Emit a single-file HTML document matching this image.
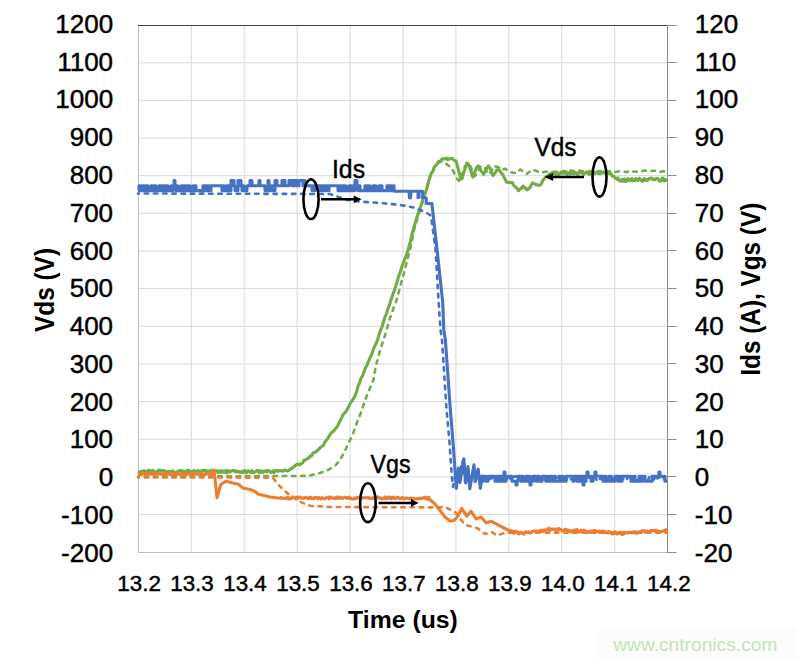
<!DOCTYPE html><html><head><meta charset="utf-8"><style>html,body{margin:0;padding:0;background:#fff;}svg{display:block;}text{font-family:"Liberation Sans",sans-serif;}</style></head><body>
<svg width="797" height="660" viewBox="0 0 797 660">
<rect width="797" height="660" fill="#fff"/>
<rect x="597" y="630" width="200" height="30" fill="#fcfcfc"/>
<path d="M138,62.75H667M138,100.40H667M138,138.05H667M138,175.70H667M138,213.35H667M138,251.00H667M138,288.65H667M138,326.30H667M138,363.95H667M138,401.60H667M138,439.25H667M138,476.90H667M138,514.55H667M191.32,25V552M244.24,25V552M297.16,25V552M350.08,25V552M403.00,25V552M455.92,25V552M508.84,25V552M561.76,25V552M614.68,25V552" stroke="#d9d9d9" stroke-width="1" fill="none"/>
<path d="M138.5,25V553M138,552.5H667" stroke="#bfbfbf" stroke-width="1" fill="none"/>
<path d="M138,25.5H667" stroke="#404040" stroke-width="1.2" fill="none"/>
<path d="M667.5,25V553M667,25.5H676.5M667,62.5H676.5M667,100.5H676.5M667,137.5H676.5M667,175.5H676.5M667,213.5H676.5M667,250.5H676.5M667,288.5H676.5M667,326.5H676.5M667,363.5H676.5M667,401.5H676.5M667,439.5H676.5M667,476.5H676.5M667,514.5H676.5M667,552.5H676.5" stroke="#8c8c8c" stroke-width="1" fill="none"/>
<path d="M138.0,471.4 L139.0,471.7 L140.0,472.6 L141.0,471.4 L142.0,471.5 L143.0,471.7 L144.0,470.7 L145.0,471.5 L146.0,471.8 L147.0,472.3 L148.0,470.4 L149.0,471.0 L150.0,470.4 L151.0,472.3 L152.0,472.0 L153.0,470.3 L154.0,472.8 L155.0,472.7 L156.0,471.9 L157.0,471.8 L158.0,470.6 L159.0,470.2 L160.0,471.6 L161.0,470.4 L162.0,470.7 L163.0,470.8 L164.0,470.3 L165.0,471.4 L166.0,471.3 L167.0,472.4 L168.0,471.5 L169.0,471.9 L170.0,471.5 L171.0,471.9 L172.0,471.4 L173.0,470.9 L174.0,472.8 L175.0,472.8 L176.0,472.4 L177.0,472.0 L178.0,471.0 L179.0,470.8 L180.0,471.0 L181.0,470.4 L182.0,472.2 L183.0,471.2 L184.0,472.4 L185.0,471.2 L186.0,472.7 L187.0,472.4 L188.0,470.2 L189.0,470.7 L190.0,472.6 L191.0,471.4 L192.0,472.7 L193.0,471.2 L194.0,470.4 L195.0,471.8 L196.0,472.2 L197.0,470.9 L198.0,470.4 L199.0,471.1 L200.0,472.7 L201.0,472.2 L202.0,470.5 L203.0,470.8 L204.0,470.5 L205.0,470.4 L206.0,472.3 L207.0,470.7 L208.0,471.7 L209.0,471.4 L210.0,470.7 L211.0,472.1 L212.0,470.5 L213.0,471.9 L214.0,470.5 L215.0,471.3 L216.0,470.8 L217.0,470.9 L218.0,472.7 L219.0,472.3 L220.0,471.0 L221.0,472.5 L222.0,470.7 L223.0,471.2 L224.0,472.4 L225.0,471.9 L226.0,470.5 L227.0,472.8 L228.0,470.8 L229.0,470.9 L230.0,472.2 L231.0,471.1 L232.0,471.0 L233.0,470.4 L234.0,470.4 L235.0,471.7 L236.0,470.8 L237.0,471.8 L238.0,471.2 L239.0,471.4 L240.0,472.7 L241.0,471.5 L242.0,471.7 L243.0,472.5 L244.0,470.7 L245.0,470.6 L246.0,472.6 L247.0,472.3 L248.0,470.8 L249.0,470.7 L250.0,472.1 L251.0,472.6 L252.0,470.7 L253.0,472.7 L254.0,472.5 L255.0,471.8 L256.0,471.3 L257.0,470.5 L258.0,470.3 L259.0,472.7 L260.0,470.8 L261.0,472.0 L262.0,470.9 L263.0,472.3 L264.0,471.8 L265.0,471.0 L266.0,470.7 L267.0,472.1 L268.0,470.4 L269.0,470.8 L270.0,471.7 L271.0,472.4 L272.0,471.8 L273.0,470.9 L274.0,472.6 L275.0,470.7 L276.0,470.2 L277.0,470.9 L278.0,471.4 L279.0,470.4 L280.0,470.7 L281.5,470.9 L283.0,471.1 L284.5,470.1 L286.0,470.3 L287.5,471.0 L289.0,470.4 L290.5,469.0 L292.0,468.3 L293.5,467.3 L295.0,465.6 L296.5,464.7 L298.0,464.0 L299.5,465.1 L301.0,463.7 L302.5,463.1 L304.0,460.1 L305.5,460.2 L307.0,458.8 L308.5,458.2 L310.0,456.2 L311.5,456.2 L313.0,453.0 L314.5,452.6 L316.0,451.6 L317.5,450.6 L319.0,448.9 L320.5,447.5 L322.0,446.3 L323.5,445.2 L325.0,441.9 L326.5,440.1 L328.0,438.1 L329.5,435.6 L331.0,432.9 L332.5,432.1 L334.0,430.7 L335.5,428.5 L337.0,427.1 L338.5,423.9 L340.0,421.1 L341.5,418.1 L343.0,414.6 L344.5,413.2 L346.0,411.5 L347.5,408.8 L349.0,406.0 L350.5,402.8 L352.0,401.1 L353.5,398.4 L355.0,395.7 L356.5,392.1 L358.0,386.1 L359.5,383.3 L361.0,378.3 L362.5,375.8 L364.0,371.9 L365.5,367.8 L367.0,365.2 L368.5,361.2 L370.0,357.8 L371.5,355.0 L373.0,350.3 L374.5,346.5 L376.0,343.5 L377.5,340.0 L379.0,334.7 L380.5,330.3 L382.0,327.0 L383.5,321.8 L385.0,316.8 L386.5,313.6 L388.0,308.3 L389.5,304.9 L391.0,299.7 L392.5,295.4 L394.0,291.4 L395.5,286.9 L397.0,282.1 L398.5,276.8 L400.0,272.9 L401.5,268.0 L403.0,263.3 L404.5,259.8 L406.0,256.1 L407.5,251.8 L409.0,246.3 L410.5,241.2 L412.0,234.3 L413.5,228.5 L415.0,223.8 L416.5,218.8 L418.0,214.0 L419.5,209.8 L421.0,205.5 L422.5,200.6 L424.0,195.7 L425.5,192.3 L427.0,188.1 L428.5,182.1 L430.0,176.1 L431.5,172.8 L433.0,171.2 L434.5,166.7 L436.0,165.6 L437.5,163.2 L439.0,161.2 L440.5,160.9 L442.0,158.9 L443.5,158.7 L445.0,158.9 L446.5,158.1 L448.0,159.8 L449.5,158.7 L451.0,158.5 L452.5,158.6 L454.0,160.2 L456.0,161.0 L457.2,165.4 L458.4,169.7 L459.6,174.4 L460.8,179.0 L462.0,178.9 L463.2,174.2 L464.4,170.8 L465.6,166.9 L466.8,163.2 L468.0,163.5 L469.2,166.5 L470.4,169.0 L471.6,173.4 L472.8,177.1 L474.0,174.1 L475.2,170.6 L476.4,168.3 L477.6,166.0 L478.8,166.0 L480.0,168.6 L481.2,171.0 L482.4,172.4 L483.6,174.5 L484.8,172.3 L486.0,169.5 L487.2,167.8 L488.4,165.9 L489.6,167.4 L490.8,170.1 L492.0,173.8 L493.2,175.5 L494.4,173.7 L495.6,172.2 L496.8,169.8 L498.0,169.9 L499.2,170.0 L500.4,171.6 L501.6,173.3 L502.8,174.5 L504.0,177.2 L505.2,179.2 L506.4,182.0 L507.6,182.4 L508.8,182.6 L510.0,182.2 L511.2,182.7 L512.4,182.6 L513.6,185.1 L514.8,186.6 L516.0,187.4 L517.2,188.6 L518.4,190.7 L519.6,189.7 L520.8,188.8 L522.0,187.2 L523.2,186.0 L524.4,188.0 L525.6,187.9 L526.8,189.9 L528.0,189.5 L529.2,188.0 L530.4,187.0 L531.6,184.5 L532.8,182.8 L534.0,183.6 L535.2,184.2 L536.4,184.7 L537.6,184.8 L538.8,185.5 L540.0,185.2 L541.2,184.1 L542.4,181.1 L543.6,179.5 L544.8,178.1 L546.0,176.6 L547.2,176.2 L548.4,175.1 L549.6,173.9 L551.0,174.1 L552.0,173.2 L553.0,172.4 L554.0,172.6 L555.0,174.1 L556.0,174.3 L557.0,172.1 L558.0,174.1 L559.0,174.5 L560.0,173.1 L561.0,173.2 L562.0,172.0 L563.0,173.1 L564.0,173.0 L565.0,173.3 L566.0,171.5 L567.0,174.5 L568.0,173.1 L569.0,172.7 L570.0,174.0 L571.0,173.2 L572.0,173.0 L573.0,173.6 L574.0,171.6 L575.0,173.1 L576.0,172.7 L577.0,174.5 L578.0,174.4 L579.0,172.3 L580.0,172.9 L581.0,171.8 L582.0,172.8 L583.0,174.0 L584.0,174.3 L585.0,172.9 L586.0,172.4 L587.0,172.0 L588.0,173.4 L589.0,174.4 L590.0,171.8 L591.0,173.9 L592.0,171.5 L593.0,172.0 L594.0,172.1 L595.0,173.6 L596.0,172.4 L597.0,172.5 L598.0,173.4 L599.0,171.7 L600.0,173.7 L601.0,171.8 L602.0,173.0 L603.0,172.2 L604.0,172.0 L605.0,173.1 L606.0,172.8 L607.0,172.6 L608.0,172.7 L609.0,173.7 L610.0,173.1 L611.0,173.8 L612.0,175.7 L613.0,176.3 L614.0,176.5 L615.0,178.1 L616.0,178.0 L617.0,179.3 L618.0,177.9 L619.0,180.2 L620.0,181.0 L621.0,181.3 L622.0,179.4 L623.0,179.4 L624.0,181.3 L625.0,179.0 L626.0,181.5 L627.0,181.2 L628.0,178.7 L629.0,179.1 L630.0,180.6 L631.0,179.1 L632.0,178.6 L633.0,180.9 L634.0,179.6 L635.0,180.8 L636.0,178.6 L637.0,179.5 L638.0,180.4 L639.0,178.3 L640.0,178.8 L641.0,180.4 L642.0,181.1 L643.0,181.3 L644.0,178.5 L645.0,179.8 L646.0,180.5 L647.0,179.7 L648.0,180.3 L649.0,178.7 L650.0,178.3 L651.0,178.4 L652.0,178.2 L653.0,179.8 L654.0,179.7 L655.0,179.8 L656.0,178.5 L657.0,178.6 L658.0,178.6 L659.0,180.7 L660.0,181.1 L661.0,180.9 L662.0,178.3 L663.0,178.1 L664.0,181.0 L665.0,179.4 L666.0,180.4 L667.0,178.9" stroke="#70AD47" stroke-width="3.1" fill="none" stroke-linejoin="round"/>
<path d="M138.0,476.5 L300.0,476.0 L310.0,475.5 L320.0,473.0 L328.0,470.0 L335.0,466.0 L340.0,460.0 L345.0,451.0 L347.6,445.0 L352.5,435.2 L357.0,422.4 L361.4,411.5 L365.3,399.7 L369.3,389.9 L373.7,379.0 L375.6,366.9 L380.1,350.2 L385.2,334.7 L386.0,331.9 L388.0,325.0 L390.0,318.0 L392.0,312.6 L394.0,306.6 L396.0,302.1 L398.0,295.2 L400.0,287.1 L402.0,279.9 L404.0,272.8 L406.0,264.9 L408.0,257.1 L410.0,249.6 L412.0,240.4 L414.0,230.2 L416.0,223.2 L418.0,216.6 L420.0,210.0 L422.0,203.7 L424.0,196.8 L426.0,189.9 L428.0,183.5 L430.0,177.3 L432.0,172.3 L434.0,167.5 L436.0,163.2 L438.0,163.0 L440.0,161.8 L443.0,161.5 L445.7,163.4 L450.0,166.8 L452.6,169.6 L454.5,173.7 L456.5,178.0 L459.0,181.0 L462.0,175.0 L465.0,166.0 L469.0,163.0 L472.0,170.0 L475.0,176.0 L478.0,172.0 L481.0,166.0 L485.0,168.0 L488.0,174.0 L491.0,172.0 L494.0,166.0 L498.0,167.0 L502.0,170.0 L505.0,168.6 L510.0,172.3 L516.5,173.2 L520.3,169.5 L526.6,173.9 L532.8,169.5 L540.0,172.4 L543.0,172.4 L546.0,171.6 L549.0,172.3 L552.0,172.2 L555.0,171.8 L558.0,171.8 L561.0,171.7 L564.0,171.1 L567.0,171.7 L570.0,170.6 L573.0,171.0 L576.0,171.3 L579.0,170.5 L582.0,171.1 L585.0,171.5 L588.0,171.5 L591.0,170.9 L594.0,172.0 L597.0,171.6 L600.0,171.0 L603.0,171.6 L606.0,171.4 L609.0,171.4 L612.0,171.1 L615.0,172.1 L618.0,171.5 L621.0,171.6 L624.0,171.7 L627.0,172.1 L630.0,170.5 L633.0,171.5 L636.0,171.7 L639.0,170.9 L642.0,171.1 L645.0,170.6 L648.0,170.8 L651.0,171.1 L654.0,170.7 L657.0,170.9 L660.0,171.9 L663.0,171.4 L666.0,171.3" stroke="#70AD47" stroke-width="2.6" fill="none" stroke-linejoin="round" stroke-dasharray="3.5 5.7" stroke-linecap="round" stroke-dashoffset="2.5"/>
<path d="M138.0,474.6 L139.0,474.1 L140.0,474.6 L141.0,474.2 L142.0,474.4 L143.0,473.5 L144.0,474.1 L145.0,474.3 L146.0,473.5 L147.0,474.5 L148.0,473.6 L149.0,474.0 L150.0,473.6 L151.0,474.0 L152.0,474.1 L153.0,473.5 L154.0,474.5 L155.0,473.9 L156.0,474.0 L157.0,474.1 L158.0,473.8 L159.0,473.7 L160.0,474.2 L161.0,474.1 L162.0,473.7 L163.0,474.3 L164.0,473.8 L165.0,473.4 L166.0,473.7 L167.0,473.5 L168.0,473.6 L169.0,474.3 L170.0,473.9 L171.0,474.5 L172.0,474.3 L173.0,473.5 L174.0,474.6 L175.0,474.5 L176.0,473.5 L177.0,474.5 L178.0,473.9 L179.0,474.0 L180.0,474.6 L181.0,473.7 L182.0,474.0 L183.0,474.5 L184.0,474.3 L185.0,474.0 L186.0,474.6 L187.0,474.4 L188.0,474.1 L189.0,473.5 L190.0,474.1 L191.0,473.9 L192.0,473.6 L193.0,473.5 L194.0,474.0 L195.0,473.5 L196.0,473.9 L197.0,474.2 L198.0,473.9 L199.0,473.7 L200.0,474.1 L201.0,473.9 L202.0,474.3 L203.0,474.0 L204.0,474.6 L205.0,474.5 L206.0,474.3 L207.0,473.7 L208.0,473.5 L209.0,474.5 L210.0,474.3 L211.0,474.1 L212.0,473.8 L213.0,472.5 L214.0,470.0 L217.0,497.7 L220.8,484.5 L225.8,481.3 L235.0,483.5 L238.0,484.0 L243.0,488.0 L250.0,489.5 L255.0,491.5 L258.0,494.0 L265.0,495.7 L270.0,497.0 L280.0,498.2 L281.0,497.5 L282.0,498.4 L283.0,498.1 L284.0,498.2 L285.0,498.3 L286.0,498.6 L287.0,497.3 L288.0,497.4 L289.0,499.1 L290.0,498.9 L291.0,498.8 L292.0,497.0 L293.0,497.0 L294.0,497.5 L295.0,497.8 L296.0,498.3 L297.0,497.1 L298.0,498.1 L299.0,497.1 L300.0,497.1 L301.0,498.4 L302.0,498.1 L303.0,498.3 L304.0,497.7 L305.0,498.0 L306.0,497.4 L307.0,497.7 L308.0,498.5 L309.0,498.7 L310.0,497.1 L311.0,497.2 L312.0,498.7 L313.0,498.3 L314.0,498.6 L315.0,497.4 L316.0,497.8 L317.0,497.5 L318.0,498.7 L319.0,497.7 L320.0,498.3 L321.0,499.1 L322.0,497.6 L323.0,498.1 L324.0,498.5 L325.0,498.9 L326.0,497.8 L327.0,497.7 L328.0,497.1 L329.0,498.8 L330.0,497.1 L331.0,497.1 L332.0,498.1 L333.0,498.0 L334.0,498.4 L335.0,497.6 L336.0,498.6 L337.0,497.1 L338.0,497.4 L339.0,498.4 L340.0,497.1 L341.0,497.6 L342.0,498.5 L343.0,498.4 L344.0,497.5 L345.0,497.2 L346.0,497.7 L347.0,498.5 L348.0,497.7 L349.0,497.2 L350.0,498.5 L351.0,498.2 L352.0,498.9 L353.0,499.0 L354.0,498.9 L355.0,497.9 L356.0,498.7 L357.0,497.6 L358.0,497.6 L359.0,497.8 L360.0,499.0 L361.0,498.9 L362.0,497.4 L363.0,497.7 L364.0,497.7 L365.0,497.7 L366.0,497.8 L367.0,497.8 L368.0,497.3 L369.0,498.1 L370.0,498.7 L371.0,498.1 L372.0,498.7 L373.0,498.1 L374.0,497.3 L375.0,498.6 L376.0,498.8 L377.0,497.5 L378.0,496.9 L379.0,498.0 L380.0,498.1 L381.0,498.1 L382.0,499.0 L383.0,498.3 L384.0,498.7 L385.0,497.0 L386.0,498.1 L387.0,498.6 L388.0,497.1 L389.0,497.1 L390.0,498.5 L391.0,498.9 L392.0,497.1 L393.0,498.3 L394.0,497.2 L395.0,498.5 L396.0,498.3 L397.0,497.4 L398.0,497.4 L399.0,498.6 L400.0,498.0 L401.0,498.6 L402.0,497.8 L403.0,497.6 L404.0,499.0 L405.0,498.4 L406.0,498.0 L407.0,498.1 L408.0,498.5 L409.0,498.5 L410.0,498.9 L411.0,497.8 L412.0,498.7 L413.0,498.4 L414.0,498.8 L415.0,498.7 L416.0,498.7 L417.0,498.9 L418.0,499.0 L419.0,498.3 L420.0,498.1 L421.0,498.5 L422.0,498.7 L423.0,497.8 L424.0,497.8 L425.0,497.2 L426.0,498.5 L427.0,499.1 L428.0,497.7 L429.0,497.3 L425.0,498.3 L430.0,499.8 L435.0,504.0 L440.0,510.5 L445.0,517.0 L450.0,521.0 L454.0,520.5 L458.0,516.0 L461.7,508.3 L466.7,516.2 L471.0,511.2 L476.0,519.0 L481.0,517.0 L486.0,522.7 L491.0,521.2 L500.0,526.0 L510.6,531.3 L511.0,530.6 L512.0,531.4 L513.0,531.3 L514.0,533.3 L515.0,531.2 L516.0,532.1 L517.0,531.8 L518.0,533.4 L519.0,534.0 L520.0,532.7 L521.0,532.3 L522.0,533.2 L523.0,533.4 L524.0,534.2 L525.0,531.8 L526.0,531.9 L527.0,532.0 L528.0,532.0 L529.0,532.0 L530.0,533.2 L531.0,532.7 L532.0,531.5 L533.0,531.3 L534.0,531.3 L535.0,530.9 L536.0,532.2 L537.0,530.9 L538.0,531.4 L539.0,531.9 L540.0,530.8 L541.0,530.1 L542.0,531.6 L543.0,531.4 L544.0,529.8 L545.0,530.2 L546.0,531.0 L547.0,529.6 L548.0,528.8 L549.0,528.2 L550.0,530.3 L551.0,529.8 L552.0,528.8 L553.0,529.3 L554.0,529.3 L555.0,528.8 L556.0,530.7 L557.0,530.0 L558.0,529.0 L559.0,528.5 L560.0,529.8 L561.0,529.6 L562.0,530.8 L563.0,530.7 L564.0,530.5 L565.0,529.4 L566.0,529.5 L567.0,530.1 L568.0,530.0 L569.0,531.7 L570.0,530.8 L571.0,531.2 L572.0,532.1 L573.0,530.3 L574.0,531.0 L575.0,530.0 L576.0,531.7 L577.0,529.7 L578.0,531.9 L579.0,532.0 L580.0,531.9 L581.0,530.0 L582.0,530.6 L583.0,531.8 L584.0,530.2 L585.0,531.2 L586.0,531.2 L587.0,532.5 L588.0,531.6 L589.0,532.3 L590.0,530.9 L591.0,532.2 L592.0,531.2 L593.0,532.6 L594.0,530.5 L595.0,532.4 L596.0,530.8 L597.0,531.7 L598.0,531.7 L599.0,530.8 L600.0,532.6 L601.0,531.3 L602.0,531.4 L603.0,530.9 L604.0,531.6 L605.0,532.1 L606.0,532.8 L607.0,532.0 L608.0,532.9 L609.0,531.5 L610.0,532.3 L611.0,532.6 L612.0,534.0 L613.0,533.7 L614.0,533.4 L615.0,531.8 L616.0,532.8 L617.0,533.8 L618.0,532.6 L619.0,533.6 L620.0,533.4 L621.0,532.2 L622.0,534.6 L623.0,534.1 L624.0,532.4 L625.0,533.4 L626.0,532.5 L627.0,532.7 L628.0,533.0 L629.0,532.3 L630.0,532.3 L631.0,532.4 L632.0,533.0 L633.0,531.9 L634.0,531.7 L635.0,533.0 L636.0,531.9 L637.0,533.4 L638.0,532.3 L639.0,532.7 L640.0,531.6 L641.0,532.8 L642.0,530.8 L643.0,530.8 L644.0,530.6 L645.0,532.1 L646.0,532.2 L647.0,530.8 L648.0,531.3 L649.0,532.4 L650.0,531.7 L651.0,530.4 L652.0,530.7 L653.0,530.5 L654.0,530.3 L655.0,531.0 L656.0,530.1 L657.0,532.3 L658.0,531.0 L659.0,531.1 L660.0,531.5 L661.0,531.7 L662.0,531.8 L663.0,530.7 L664.0,530.5 L665.0,530.6 L666.0,529.6 L667.0,530.5" stroke="#ED7D31" stroke-width="3.1" fill="none" stroke-linejoin="round"/>
<path d="M138.0,477.5 L272.7,477.6 L280.0,486.4 L290.2,495.8 L300.3,502.0 L310.3,505.8 L330.0,507.0 L437.0,507.4 L445.0,507.0 L455.0,512.0 L465.0,524.8 L478.0,528.4 L485.0,534.0 L492.0,532.0 L497.0,535.6 L505.0,532.7 L540.0,532.6 L667.0,532.6" stroke="#ED7D31" stroke-width="2.6" fill="none" stroke-linejoin="round" stroke-dasharray="3.5 5.7" stroke-linecap="round" stroke-dashoffset="2.5"/>
<path d="M138.0,190.6 L139.0,190.6 L139.0,185.8 L140.0,185.8 L140.0,190.6 L141.0,190.6 L141.0,185.8 L142.0,185.8 L142.0,190.6 L143.0,190.6 L143.0,185.8 L144.0,185.8 L144.0,190.6 L145.0,190.6 L145.0,185.8 L146.0,185.8 L146.0,190.6 L147.0,190.6 L147.0,185.8 L148.0,185.8 L148.0,190.6 L149.0,190.6 L149.0,190.6 L150.0,190.6 L150.0,190.6 L151.0,190.6 L151.0,185.8 L152.0,185.8 L152.0,190.6 L153.0,190.6 L153.0,185.8 L154.0,185.8 L154.0,190.6 L155.0,190.6 L155.0,185.8 L156.0,185.8 L156.0,190.6 L157.0,190.6 L157.0,190.6 L158.0,190.6 L158.0,190.6 L159.0,190.6 L159.0,185.8 L160.0,185.8 L160.0,190.6 L161.0,190.6 L161.0,185.8 L162.0,185.8 L162.0,190.6 L163.0,190.6 L163.0,185.8 L164.0,185.8 L164.0,190.6 L165.0,190.6 L165.0,185.8 L166.0,185.8 L166.0,190.6 L167.0,190.6 L167.0,185.8 L168.0,185.8 L168.0,190.6 L169.0,190.6 L169.0,190.6 L170.0,190.6 L170.0,190.6 L171.0,190.6 L171.0,185.8 L172.0,185.8 L172.0,190.6 L173.0,190.6 L173.0,185.8 L174.0,185.8 L174.0,180.6 L175.0,180.6 L175.0,185.8 L176.0,185.8 L176.0,190.6 L177.0,190.6 L177.0,185.8 L178.0,185.8 L178.0,190.6 L179.0,190.6 L179.0,190.6 L180.0,190.6 L180.0,190.6 L181.0,190.6 L181.0,185.8 L182.0,185.8 L182.0,190.6 L183.0,190.6 L183.0,185.8 L184.0,185.8 L184.0,190.6 L185.0,190.6 L185.0,185.8 L186.0,185.8 L186.0,190.6 L187.0,190.6 L187.0,185.8 L188.0,185.8 L188.0,190.6 L189.0,190.6 L189.0,185.8 L190.0,185.8 L190.0,190.6 L191.0,190.6 L191.0,190.6 L192.0,190.6 L192.0,190.6 L193.0,190.6 L193.0,185.8 L194.0,185.8 L194.0,190.6 L195.0,190.6 L195.0,185.8 L196.0,185.8 L196.0,190.6 L197.0,190.6 L197.0,190.6 L198.0,190.6 L198.0,190.6 L199.0,190.6 L199.0,190.6 L200.0,190.6 L200.0,190.6 L201.0,190.6 L201.0,190.6 L202.0,190.6 L202.0,190.6 L203.0,190.6 L203.0,185.8 L204.0,185.8 L204.0,190.6 L205.0,190.6 L205.0,185.8 L206.0,185.8 L206.0,190.6 L207.0,190.6 L207.0,185.8 L208.0,185.8 L208.0,190.6 L209.0,190.6 L209.0,185.8 L210.0,185.8 L210.0,190.6 L211.0,190.6 L211.0,185.8 L212.0,185.8 L212.0,185.8 L213.0,185.8 L213.0,185.8 L214.0,185.8 L214.0,185.8 L215.0,185.8 L215.0,185.8 L216.0,185.8 L216.0,185.8 L217.0,185.8 L217.0,185.8 L218.0,185.8 L218.0,185.8 L219.0,185.8 L219.0,185.8 L220.0,185.8 L220.0,185.8 L221.0,185.8 L221.0,185.8 L222.0,185.8 L222.0,190.6 L223.0,190.6 L223.0,185.8 L224.0,185.8 L224.0,190.6 L225.0,190.6 L225.0,190.6 L226.0,190.6 L226.0,185.8 L227.0,185.8 L227.0,185.8 L228.0,185.8 L228.0,190.6 L229.0,190.6 L229.0,185.8 L230.0,185.8 L230.0,190.6 L231.0,190.6 L231.0,180.6 L232.0,180.6 L232.0,180.6 L233.0,180.6 L233.0,180.6 L234.0,180.6 L234.0,185.8 L235.0,185.8 L235.0,190.6 L236.0,190.6 L236.0,190.6 L237.0,190.6 L237.0,190.6 L238.0,190.6 L238.0,180.6 L239.0,180.6 L239.0,185.8 L240.0,185.8 L240.0,180.6 L241.0,180.6 L241.0,185.8 L242.0,185.8 L242.0,190.6 L243.0,190.6 L243.0,185.8 L244.0,185.8 L244.0,190.6 L245.0,190.6 L245.0,190.6 L246.0,190.6 L246.0,190.6 L247.0,190.6 L247.0,185.8 L248.0,185.8 L248.0,185.8 L249.0,185.8 L249.0,185.8 L250.0,185.8 L250.0,180.6 L251.0,180.6 L251.0,180.6 L252.0,180.6 L252.0,185.8 L253.0,185.8 L253.0,185.8 L254.0,185.8 L254.0,185.8 L255.0,185.8 L255.0,185.8 L256.0,185.8 L256.0,185.8 L257.0,185.8 L257.0,185.8 L258.0,185.8 L258.0,185.8 L259.0,185.8 L259.0,180.6 L260.0,180.6 L260.0,185.8 L261.0,185.8 L261.0,185.8 L262.0,185.8 L262.0,185.8 L263.0,185.8 L263.0,185.8 L264.0,185.8 L264.0,185.8 L265.0,185.8 L265.0,190.6 L266.0,190.6 L266.0,190.6 L267.0,190.6 L267.0,190.6 L268.0,190.6 L268.0,180.6 L269.0,180.6 L269.0,190.6 L270.0,190.6 L270.0,190.6 L271.0,190.6 L271.0,185.8 L272.0,185.8 L272.0,190.6 L273.0,190.6 L273.0,185.8 L274.0,185.8 L274.0,190.6 L275.0,190.6 L275.0,180.6 L276.0,180.6 L276.0,180.6 L277.0,180.6 L277.0,185.8 L278.0,185.8 L278.0,185.8 L279.0,185.8 L279.0,185.8 L280.0,185.8 L280.0,185.8 L281.0,185.8 L281.0,185.8 L282.0,185.8 L282.0,180.6 L283.0,180.6 L283.0,185.8 L284.0,185.8 L284.0,180.6 L285.0,180.6 L285.0,185.8 L286.0,185.8 L286.0,185.8 L287.0,185.8 L287.0,185.8 L288.0,185.8 L288.0,185.8 L289.0,185.8 L289.0,180.6 L290.0,180.6 L290.0,180.6 L291.0,180.6 L291.0,180.6 L292.0,180.6 L292.0,185.8 L293.0,185.8 L293.0,180.6 L294.0,180.6 L294.0,185.8 L295.0,185.8 L295.0,180.6 L296.0,180.6 L296.0,180.6 L297.0,180.6 L297.0,185.8 L298.0,185.8 L298.0,185.8 L299.0,185.8 L299.0,180.6 L300.0,180.6 L300.0,180.6 L301.0,180.6 L301.0,180.6 L302.0,180.6 L302.0,180.6 L303.0,180.6 L303.0,185.8 L304.0,185.8 L304.0,180.6 L305.0,180.6 L305.0,185.8 L306.0,185.8 L306.0,185.8 L307.0,185.8 L307.0,185.8 L308.0,185.8 L308.0,185.8 L309.0,185.8 L309.0,185.8 L310.0,185.8 L310.0,185.8 L311.0,185.8 L311.0,185.8 L312.0,185.8 L312.0,190.6 L313.0,190.6 L313.0,185.8 L314.0,185.8 L314.0,190.6 L315.0,190.6 L315.0,185.8 L316.0,185.8 L316.0,185.8 L317.0,185.8 L317.0,185.8 L318.0,185.8 L318.0,185.8 L319.0,185.8 L319.0,185.8 L320.0,185.8 L320.0,190.6 L321.0,190.6 L321.0,185.8 L322.0,185.8 L322.0,190.6 L323.0,190.6 L323.0,185.8 L324.0,185.8 L324.0,190.6 L325.0,190.6 L325.0,185.8 L326.0,185.8 L326.0,190.6 L327.0,190.6 L327.0,185.8 L328.0,185.8 L328.0,190.6 L329.0,190.6 L329.0,185.8 L330.0,185.8 L330.0,185.8 L331.0,185.8 L331.0,185.8 L332.0,185.8 L332.0,185.8 L333.0,185.8 L333.0,185.8 L334.0,185.8 L334.0,185.8 L335.0,185.8 L335.0,185.8 L336.0,185.8 L336.0,185.8 L337.0,185.8 L337.0,185.8 L338.0,185.8 L338.0,190.6 L339.0,190.6 L339.0,185.8 L340.0,185.8 L340.0,190.6 L341.0,190.6 L341.0,185.8 L342.0,185.8 L342.0,190.6 L343.0,190.6 L343.0,185.8 L344.0,185.8 L344.0,190.6 L345.0,190.6 L345.0,185.8 L346.0,185.8 L346.0,190.6 L347.0,190.6 L347.0,190.6 L348.0,190.6 L348.0,190.6 L349.0,190.6 L349.0,185.8 L350.0,185.8 L350.0,190.6 L351.0,190.6 L351.0,185.8 L352.0,185.8 L352.0,190.6 L353.0,190.6 L353.0,185.8 L354.0,185.8 L354.0,190.6 L355.0,190.6 L355.0,180.6 L356.0,180.6 L356.0,180.6 L357.0,180.6 L357.0,185.8 L358.0,185.8 L358.0,190.6 L359.0,190.6 L359.0,185.8 L360.0,185.8 L360.0,190.6 L361.0,190.6 L361.0,190.6 L362.0,190.6 L362.0,190.6 L363.0,190.6 L363.0,190.6 L364.0,190.6 L364.0,190.6 L365.0,190.6 L365.0,185.8 L366.0,185.8 L366.0,190.6 L367.0,190.6 L367.0,185.8 L368.0,185.8 L368.0,190.6 L369.0,190.6 L369.0,185.8 L370.0,185.8 L370.0,190.6 L371.0,190.6 L371.0,190.6 L372.0,190.6 L372.0,190.6 L373.0,190.6 L373.0,185.8 L374.0,185.8 L374.0,190.6 L375.0,190.6 L375.0,185.8 L376.0,185.8 L376.0,190.6 L377.0,190.6 L377.0,190.6 L378.0,190.6 L378.0,190.6 L379.0,190.6 L379.0,185.8 L380.0,185.8 L380.0,190.6 L381.0,190.6 L381.0,185.8 L382.0,185.8 L382.0,190.6 L383.0,190.6 L383.0,190.6 L384.0,190.6 L384.0,190.6 L385.0,190.6 L385.0,190.6 L386.0,190.6 L386.0,190.6 L387.0,190.6 L387.0,185.8 L388.0,185.8 L388.0,190.6 L389.0,190.6 L389.0,185.8 L390.0,185.8 L390.0,190.6 L391.0,190.6 L391.0,185.8 L392.0,185.8 L392.0,190.6 L393.0,190.6 L393.0,185.8 L394.0,185.8 L394.0,190.6 L394.6,190.6 L394.6,191.2 L409.0,191.2 L409.5,198.0 L410.5,198.0 L411.0,191.2 L414.8,191.2 L415.0,191.2 L416.0,191.2 L416.0,191.2 L418.0,191.2 L418.0,197.5 L419.0,197.5 L419.0,191.2 L420.0,191.2 L420.0,191.2 L422.0,191.2 L422.0,191.2 L422.7,191.2 L422.7,197.8 L426.2,197.8 L426.2,203.5 L431.9,203.5 L437.1,250.0 L442.7,301.8 L443.8,330.0 L445.4,340.0 L450.0,405.0 L453.0,442.5 L453.6,450.0 L456.3,488.4 L458.5,468.0 L460.0,482.4 L463.8,458.7 L465.7,483.0 L468.0,466.6 L469.8,488.8 L474.0,464.7 L475.1,481.6 L478.1,469.2 L480.4,488.4 L482.0,476.0 L482.0,481.3 L483.0,481.3 L483.0,476.3 L484.0,476.3 L484.0,476.3 L486.0,476.3 L486.0,481.3 L488.0,481.3 L488.0,476.3 L489.0,476.3 L489.0,476.3 L490.0,476.3 L490.0,476.3 L491.0,476.3 L491.0,476.3 L493.0,476.3 L493.0,476.3 L495.0,476.3 L495.0,481.3 L496.0,481.3 L496.0,476.3 L497.0,476.3 L497.0,476.3 L498.0,476.3 L498.0,481.3 L499.0,481.3 L499.0,476.3 L500.0,476.3 L500.0,481.3 L501.0,481.3 L501.0,476.3 L502.0,476.3 L502.0,481.3 L503.0,481.3 L503.0,481.3 L504.0,481.3 L504.0,472.0 L505.0,472.0 L505.0,481.3 L506.0,481.3 L506.0,476.3 L508.0,476.3 L508.0,476.3 L509.0,476.3 L509.0,476.3 L510.0,476.3 L510.0,476.3 L511.0,476.3 L511.0,476.3 L512.0,476.3 L512.0,481.3 L513.0,481.3 L513.0,481.3 L514.0,481.3 L514.0,481.3 L515.0,481.3 L515.0,481.3 L516.0,481.3 L516.0,485.0 L517.0,485.0 L517.0,481.3 L518.0,481.3 L518.0,476.3 L519.0,476.3 L519.0,476.3 L520.0,476.3 L520.0,476.3 L521.0,476.3 L521.0,481.3 L522.0,481.3 L522.0,476.3 L523.0,476.3 L523.0,481.3 L525.0,481.3 L525.0,481.3 L526.0,481.3 L526.0,476.3 L527.0,476.3 L527.0,476.3 L528.0,476.3 L528.0,481.3 L529.0,481.3 L529.0,476.3 L530.0,476.3 L530.0,485.0 L531.0,485.0 L531.0,481.3 L533.0,481.3 L533.0,476.3 L535.0,476.3 L535.0,476.3 L536.0,476.3 L536.0,481.3 L537.0,481.3 L537.0,476.3 L539.0,476.3 L539.0,481.3 L540.0,481.3 L540.0,481.3 L541.0,481.3 L541.0,481.3 L542.0,481.3 L542.0,476.3 L544.0,476.3 L544.0,476.3 L546.0,476.3 L546.0,481.3 L547.0,481.3 L547.0,481.3 L548.0,481.3 L548.0,476.3 L549.0,476.3 L549.0,481.3 L551.0,481.3 L551.0,476.3 L552.0,476.3 L552.0,481.3 L553.0,481.3 L553.0,481.3 L554.0,481.3 L554.0,476.3 L555.0,476.3 L555.0,481.3 L557.0,481.3 L557.0,481.3 L558.0,481.3 L558.0,481.3 L559.0,481.3 L559.0,476.3 L560.0,476.3 L560.0,481.3 L561.0,481.3 L561.0,481.3 L562.0,481.3 L562.0,476.3 L563.0,476.3 L563.0,481.3 L564.0,481.3 L564.0,481.3 L566.0,481.3 L566.0,476.3 L567.0,476.3 L567.0,476.3 L568.0,476.3 L568.0,476.3 L570.0,476.3 L570.0,476.3 L572.0,476.3 L572.0,476.3 L573.0,476.3 L573.0,481.3 L574.0,481.3 L574.0,476.3 L575.0,476.3 L575.0,476.3 L577.0,476.3 L577.0,481.3 L578.0,481.3 L578.0,476.3 L580.0,476.3 L580.0,481.3 L581.0,481.3 L581.0,476.3 L582.0,476.3 L582.0,476.3 L583.0,476.3 L583.0,485.0 L584.0,485.0 L584.0,476.3 L585.0,476.3 L585.0,481.3 L586.0,481.3 L586.0,476.3 L587.0,476.3 L587.0,472.0 L588.0,472.0 L588.0,476.3 L589.0,476.3 L589.0,476.3 L591.0,476.3 L591.0,481.3 L592.0,481.3 L592.0,481.3 L593.0,481.3 L593.0,476.3 L595.0,476.3 L595.0,472.0 L596.0,472.0 L596.0,476.3 L597.0,476.3 L597.0,476.3 L598.0,476.3 L598.0,476.3 L599.0,476.3 L599.0,476.3 L601.0,476.3 L601.0,476.3 L603.0,476.3 L603.0,481.3 L605.0,481.3 L605.0,476.3 L606.0,476.3 L606.0,481.3 L607.0,481.3 L607.0,481.3 L609.0,481.3 L609.0,476.3 L610.0,476.3 L610.0,476.3 L611.0,476.3 L611.0,481.3 L612.0,481.3 L612.0,481.3 L614.0,481.3 L614.0,481.3 L615.0,481.3 L615.0,476.3 L616.0,476.3 L616.0,476.3 L617.0,476.3 L617.0,476.3 L618.0,476.3 L618.0,481.3 L619.0,481.3 L619.0,476.3 L620.0,476.3 L620.0,481.3 L622.0,481.3 L622.0,476.3 L624.0,476.3 L624.0,476.3 L625.0,476.3 L625.0,476.3 L626.0,476.3 L626.0,476.3 L627.0,476.3 L627.0,476.3 L628.0,476.3 L628.0,476.3 L629.0,476.3 L629.0,476.3 L631.0,476.3 L631.0,481.3 L632.0,481.3 L632.0,481.3 L633.0,481.3 L633.0,476.3 L635.0,476.3 L635.0,481.3 L636.0,481.3 L636.0,481.3 L637.0,481.3 L637.0,481.3 L639.0,481.3 L639.0,476.3 L641.0,476.3 L641.0,481.3 L642.0,481.3 L642.0,476.3 L643.0,476.3 L643.0,476.3 L644.0,476.3 L644.0,476.3 L645.0,476.3 L645.0,481.3 L647.0,481.3 L647.0,481.3 L648.0,481.3 L648.0,481.3 L649.0,481.3 L649.0,481.3 L650.0,481.3 L650.0,481.3 L651.0,481.3 L651.0,481.3 L652.0,481.3 L652.0,476.3 L653.0,476.3 L653.0,476.3 L655.0,476.3 L655.0,476.3 L657.0,476.3 L657.0,476.3 L659.0,476.3 L659.0,472.0 L660.0,472.0 L660.0,476.3 L661.0,476.3 L661.0,476.3 L663.0,476.3 L663.0,476.3 L664.0,476.3 L664.0,476.3 L665.0,476.3 L665.0,481.3 L666.0,481.3 L666.0,481.3 L667.0,481.3" stroke="#4472C4" stroke-width="3.1" fill="none" stroke-linejoin="round"/>
<path d="M138.0,193.5 L330.0,194.0 L340.0,197.5 L345.0,199.5 L360.0,201.6 L380.0,203.0 L395.0,204.4 L405.0,205.7 L415.0,207.9 L425.0,211.9 L430.0,215.0 L432.0,222.7 L435.6,250.0 L438.6,301.8 L440.5,330.0 L442.0,340.0 L446.2,405.0 L449.5,442.5 L451.8,476.0 L453.0,487.0 L456.0,472.0 L458.0,481.0 L462.5,461.0 L465.0,481.0 L468.0,468.0 L470.0,485.0 L474.0,466.0 L476.0,480.0 L478.5,470.0 L481.0,484.0 L480.0,478.4 L481.2,477.2 L482.4,480.3 L483.6,477.5 L484.8,480.7 L486.0,480.6 L487.2,476.5 L488.4,480.6 L489.6,480.6 L490.8,477.3 L492.0,477.9 L493.2,480.3 L494.4,477.5 L495.6,479.6 L496.8,480.5 L498.0,476.3 L499.2,476.1 L500.4,477.6 L501.6,477.8 L502.8,477.4 L504.0,480.1 L505.2,480.5 L506.4,479.2 L507.6,477.9 L508.8,477.7 L510.0,480.6 L511.2,476.1 L512.4,479.6 L513.6,477.0 L514.8,476.3 L516.0,476.1 L517.2,478.7 L518.4,479.1 L519.6,476.2 L520.8,476.3 L522.0,478.3 L523.2,478.2 L524.4,480.9 L525.6,477.9 L526.8,480.1 L528.0,479.5 L529.2,477.3 L530.4,478.5 L531.6,478.4 L532.8,476.0 L534.0,479.0 L535.2,477.3 L536.4,477.2 L537.6,477.0 L538.8,478.6 L540.0,480.7 L541.2,481.0 L542.4,475.9 L543.6,478.7 L544.8,480.3 L546.0,479.9 L547.2,476.3 L548.4,480.2 L549.6,480.5 L550.8,479.5 L552.0,480.0 L553.2,477.3 L554.4,476.4 L555.6,476.0 L556.8,480.1 L558.0,477.0 L559.2,478.0 L560.4,476.7 L561.6,476.9 L562.8,476.7 L564.0,477.6 L565.2,479.5 L566.4,480.1 L567.6,477.4 L568.8,478.1 L570.0,477.8 L571.2,479.4 L572.4,478.5 L573.6,479.3 L574.8,477.8 L576.0,479.6 L577.2,480.7 L578.4,479.7 L579.6,480.5 L580.8,481.0 L582.0,480.2 L583.2,480.5 L584.4,477.5 L585.6,480.3 L586.8,478.6 L588.0,479.4 L589.2,476.1 L590.4,479.1 L591.6,478.0 L592.8,478.4 L594.0,477.7 L595.2,478.0 L596.4,479.7 L597.6,479.5 L598.8,477.2 L600.0,479.2 L601.2,477.8 L602.4,479.5 L603.6,476.9 L604.8,480.4 L606.0,477.0 L607.2,478.8 L608.4,476.6 L609.6,481.0 L610.8,479.2 L612.0,476.6 L613.2,479.7 L614.4,477.3 L615.6,476.7 L616.8,476.9 L618.0,479.1 L619.2,477.4 L620.4,479.3 L621.6,481.0 L622.8,478.4 L624.0,479.5 L625.2,480.0 L626.4,480.7 L627.6,477.3 L628.8,477.3 L630.0,477.2 L631.2,479.4 L632.4,477.9 L633.6,479.4 L634.8,476.6 L636.0,476.7 L637.2,481.1 L638.4,480.4 L639.6,476.9 L640.8,477.8 L642.0,478.7 L643.2,480.1 L644.4,478.0 L645.6,480.6 L646.8,480.2 L648.0,480.3 L649.2,476.8 L650.4,476.3 L651.6,478.2 L652.8,480.4 L654.0,479.3 L655.2,477.1 L656.4,479.7 L657.6,478.0 L658.8,476.6 L660.0,478.9 L661.2,479.4 L662.4,477.0 L663.6,477.4 L664.8,480.4 L666.0,478.2" stroke="#4472C4" stroke-width="2.6" fill="none" stroke-linejoin="round" stroke-dasharray="3.5 5.7" stroke-linecap="round" stroke-dashoffset="2.5"/>
<g fill="none" stroke="#000" stroke-width="2.6">
<ellipse cx="311" cy="199.2" rx="7.6" ry="19.8"/>
<ellipse cx="599.5" cy="177" rx="7.0" ry="19.6"/>
<ellipse cx="367.9" cy="502.7" rx="7.8" ry="19.4"/>
</g>
<path d="M321,199.2H355M584,177H552M378.6,503H412" fill="none" stroke="#000" stroke-width="2.4"/>
<path d="M361.6,199.2L353.7,195.4 L353.7,203.2Z M544.5,177 L553.2,173 L553.2,181Z M418.6,503 L411,499 L411,506.8Z" fill="#000"/>
<text x="113.1" y="32.9" font-size="26" text-anchor="end" font-weight="normal" fill="#000" stroke="#000" stroke-width="0.45">1200</text>
<text x="694.8" y="32.9" font-size="26" text-anchor="start" font-weight="normal" fill="#000" stroke="#000" stroke-width="0.45">120</text>
<text x="113.1" y="70.7" font-size="26" text-anchor="end" font-weight="normal" fill="#000" stroke="#000" stroke-width="0.45">1100</text>
<text x="694.8" y="70.7" font-size="26" text-anchor="start" font-weight="normal" fill="#000" stroke="#000" stroke-width="0.45">110</text>
<text x="113.1" y="108.4" font-size="26" text-anchor="end" font-weight="normal" fill="#000" stroke="#000" stroke-width="0.45">1000</text>
<text x="694.8" y="108.4" font-size="26" text-anchor="start" font-weight="normal" fill="#000" stroke="#000" stroke-width="0.45">100</text>
<text x="113.1" y="146.2" font-size="26" text-anchor="end" font-weight="normal" fill="#000" stroke="#000" stroke-width="0.45">900</text>
<text x="694.8" y="146.2" font-size="26" text-anchor="start" font-weight="normal" fill="#000" stroke="#000" stroke-width="0.45">90</text>
<text x="113.1" y="183.9" font-size="26" text-anchor="end" font-weight="normal" fill="#000" stroke="#000" stroke-width="0.45">800</text>
<text x="694.8" y="183.9" font-size="26" text-anchor="start" font-weight="normal" fill="#000" stroke="#000" stroke-width="0.45">80</text>
<text x="113.1" y="221.7" font-size="26" text-anchor="end" font-weight="normal" fill="#000" stroke="#000" stroke-width="0.45">700</text>
<text x="694.8" y="221.7" font-size="26" text-anchor="start" font-weight="normal" fill="#000" stroke="#000" stroke-width="0.45">70</text>
<text x="113.1" y="259.5" font-size="26" text-anchor="end" font-weight="normal" fill="#000" stroke="#000" stroke-width="0.45">600</text>
<text x="694.8" y="259.5" font-size="26" text-anchor="start" font-weight="normal" fill="#000" stroke="#000" stroke-width="0.45">60</text>
<text x="113.1" y="297.2" font-size="26" text-anchor="end" font-weight="normal" fill="#000" stroke="#000" stroke-width="0.45">500</text>
<text x="694.8" y="297.2" font-size="26" text-anchor="start" font-weight="normal" fill="#000" stroke="#000" stroke-width="0.45">50</text>
<text x="113.1" y="335.0" font-size="26" text-anchor="end" font-weight="normal" fill="#000" stroke="#000" stroke-width="0.45">400</text>
<text x="694.8" y="335.0" font-size="26" text-anchor="start" font-weight="normal" fill="#000" stroke="#000" stroke-width="0.45">40</text>
<text x="113.1" y="372.7" font-size="26" text-anchor="end" font-weight="normal" fill="#000" stroke="#000" stroke-width="0.45">300</text>
<text x="694.8" y="372.7" font-size="26" text-anchor="start" font-weight="normal" fill="#000" stroke="#000" stroke-width="0.45">30</text>
<text x="113.1" y="410.5" font-size="26" text-anchor="end" font-weight="normal" fill="#000" stroke="#000" stroke-width="0.45">200</text>
<text x="694.8" y="410.5" font-size="26" text-anchor="start" font-weight="normal" fill="#000" stroke="#000" stroke-width="0.45">20</text>
<text x="113.1" y="448.3" font-size="26" text-anchor="end" font-weight="normal" fill="#000" stroke="#000" stroke-width="0.45">100</text>
<text x="694.8" y="448.3" font-size="26" text-anchor="start" font-weight="normal" fill="#000" stroke="#000" stroke-width="0.45">10</text>
<text x="113.1" y="486.0" font-size="26" text-anchor="end" font-weight="normal" fill="#000" stroke="#000" stroke-width="0.45">0</text>
<text x="694.8" y="486.0" font-size="26" text-anchor="start" font-weight="normal" fill="#000" stroke="#000" stroke-width="0.45">0</text>
<text x="113.1" y="523.8" font-size="26" text-anchor="end" font-weight="normal" fill="#000" stroke="#000" stroke-width="0.45">-100</text>
<text x="694.8" y="523.8" font-size="26" text-anchor="start" font-weight="normal" fill="#000" stroke="#000" stroke-width="0.45">-10</text>
<text x="113.1" y="561.5" font-size="26" text-anchor="end" font-weight="normal" fill="#000" stroke="#000" stroke-width="0.45">-200</text>
<text x="694.8" y="561.5" font-size="26" text-anchor="start" font-weight="normal" fill="#000" stroke="#000" stroke-width="0.45">-20</text>
<text x="139.1" y="591" font-size="22.4" text-anchor="middle" font-weight="normal" fill="#000" stroke="#000" stroke-width="0.45">13.2</text>
<text x="192.0" y="591" font-size="22.4" text-anchor="middle" font-weight="normal" fill="#000" stroke="#000" stroke-width="0.45">13.3</text>
<text x="245.0" y="591" font-size="22.4" text-anchor="middle" font-weight="normal" fill="#000" stroke="#000" stroke-width="0.45">13.4</text>
<text x="298.0" y="591" font-size="22.4" text-anchor="middle" font-weight="normal" fill="#000" stroke="#000" stroke-width="0.45">13.5</text>
<text x="351.0" y="591" font-size="22.4" text-anchor="middle" font-weight="normal" fill="#000" stroke="#000" stroke-width="0.45">13.6</text>
<text x="403.9" y="591" font-size="22.4" text-anchor="middle" font-weight="normal" fill="#000" stroke="#000" stroke-width="0.45">13.7</text>
<text x="456.9" y="591" font-size="22.4" text-anchor="middle" font-weight="normal" fill="#000" stroke="#000" stroke-width="0.45">13.8</text>
<text x="509.9" y="591" font-size="22.4" text-anchor="middle" font-weight="normal" fill="#000" stroke="#000" stroke-width="0.45">13.9</text>
<text x="562.9" y="591" font-size="22.4" text-anchor="middle" font-weight="normal" fill="#000" stroke="#000" stroke-width="0.45">14.0</text>
<text x="615.9" y="591" font-size="22.4" text-anchor="middle" font-weight="normal" fill="#000" stroke="#000" stroke-width="0.45">14.1</text>
<text x="668.8" y="591" font-size="22.4" text-anchor="middle" font-weight="normal" fill="#000" stroke="#000" stroke-width="0.45">14.2</text>
<text x="403" y="628" font-size="24.8" text-anchor="middle" font-weight="bold" fill="#000">Time (us)</text>
<text x="0" y="0" font-size="27.2" text-anchor="middle" font-weight="bold" fill="#000" textLength="84" lengthAdjust="spacingAndGlyphs" transform="translate(53.6,290) rotate(-90)">Vds (V)</text>
<text x="0" y="0" font-size="27.5" text-anchor="middle" font-weight="bold" fill="#000" textLength="173" lengthAdjust="spacingAndGlyphs" transform="translate(760.2,289.2) rotate(-90)">Ids (A), Vgs (V)</text>
<text x="332" y="178" font-size="26" text-anchor="start" font-weight="normal" fill="#000" stroke="#000" stroke-width="0.45" textLength="33" lengthAdjust="spacingAndGlyphs">Ids</text>
<text x="534.5" y="155.8" font-size="26" text-anchor="start" font-weight="normal" fill="#000" stroke="#000" stroke-width="0.45" textLength="42" lengthAdjust="spacingAndGlyphs">Vds</text>
<text x="370.5" y="473.4" font-size="26" text-anchor="start" font-weight="normal" fill="#000" stroke="#000" stroke-width="0.45" textLength="40" lengthAdjust="spacingAndGlyphs">Vgs</text>
<text x="613.2" y="650.6" font-size="19.2" text-anchor="start" font-weight="normal" fill="#c5e3ba">www.cntronics.com</text>
</svg></body></html>
